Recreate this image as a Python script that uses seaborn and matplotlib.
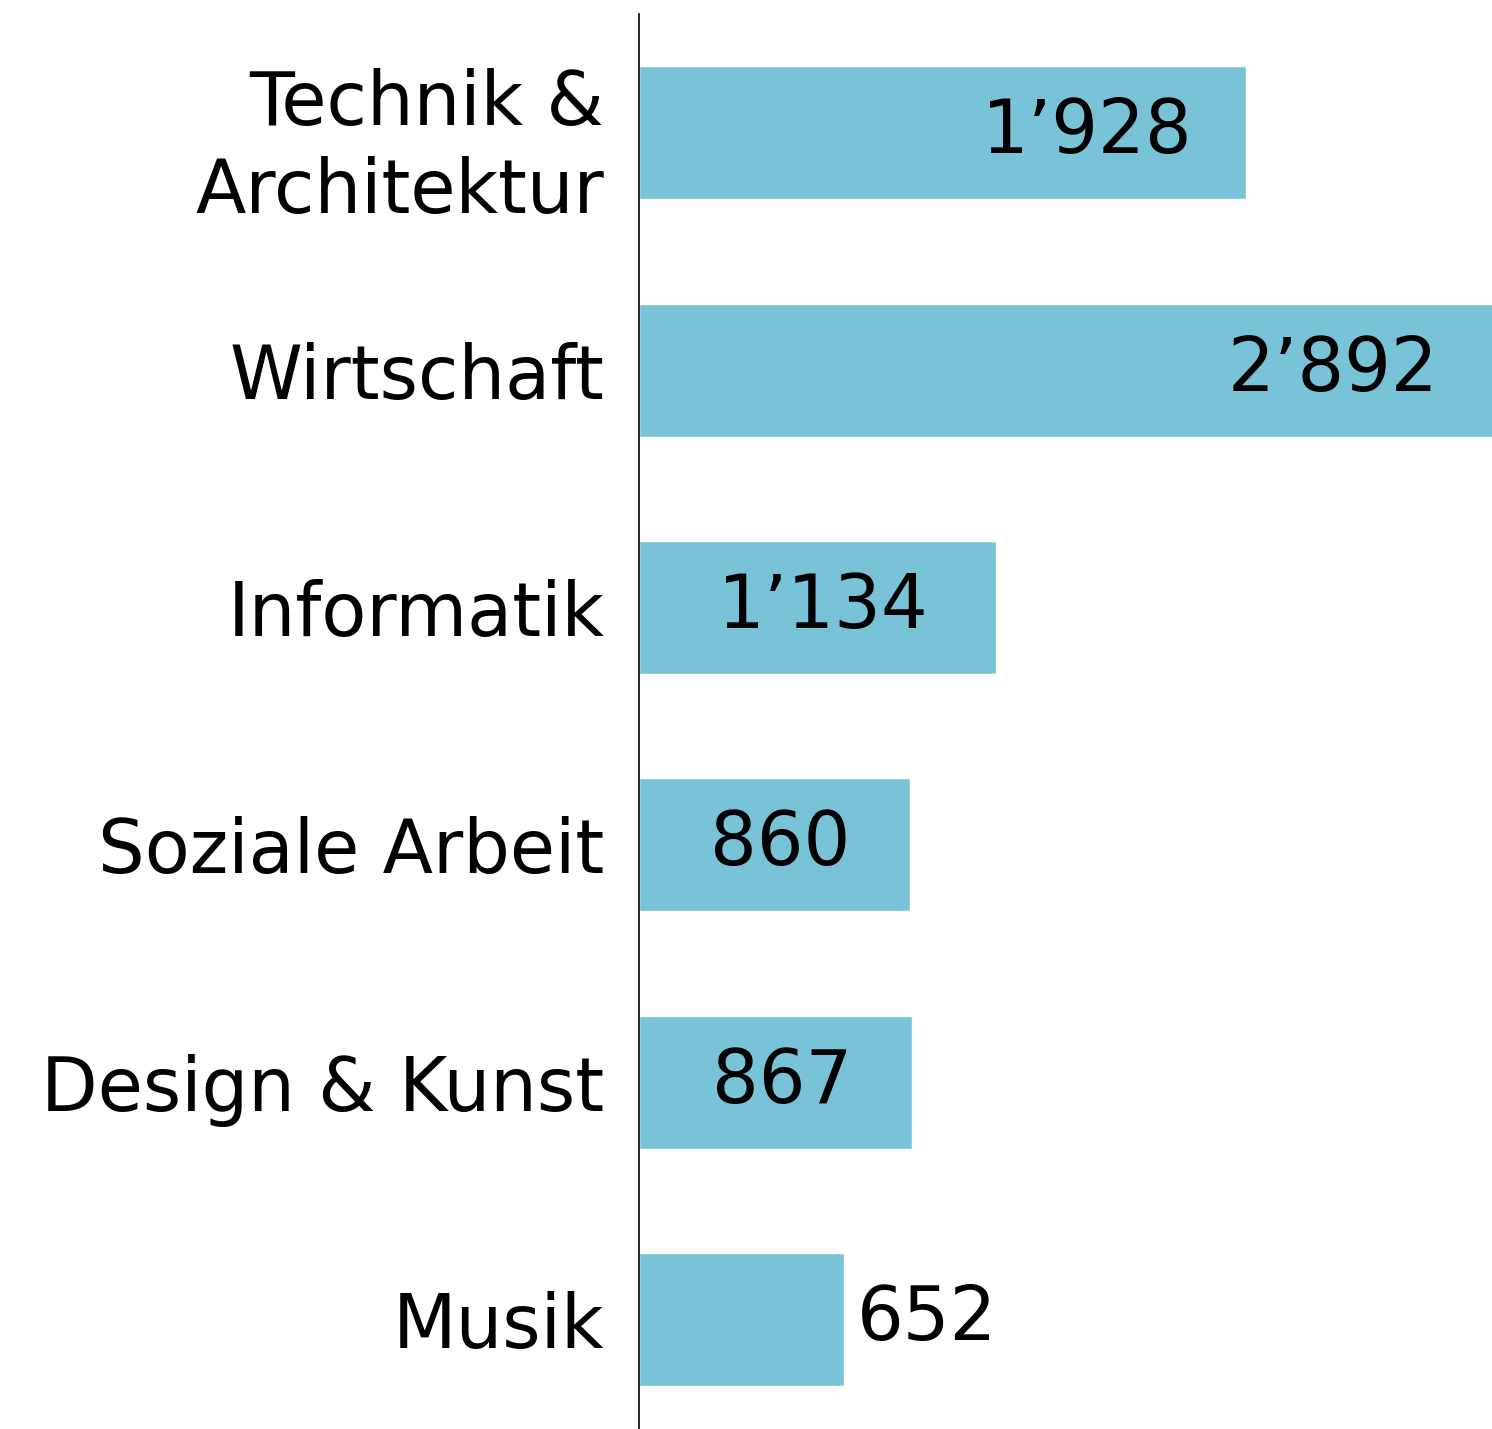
import seaborn as sns
import matplotlib.pyplot as plt
import pandas as pd

# Daten
fields = ['Technik &\nArchitektur', 'Wirtschaft', 'Informatik',
          'Soziale Arbeit', 'Design & Kunst', 'Musik']
students = [1928, 2892, 1134, 860, 867, 652]
bar_color = '#78C3D7'

df = pd.DataFrame({'field': fields, 'n': students})

sns.set_style('white')
plt.rcParams['font.family'] = ['DejaVu Sans']
plt.rcParams['text.color'] = 'black'
plt.rcParams['ytick.color'] = 'black'

fig = plt.figure(figsize=(14.92, 14.29), dpi=100)
ax = fig.add_axes([639 / 1492, 0.0, 1 - 639 / 1492, 1 - 14 / 1429])

sns.barplot(data=df, y='field', x='n', orient='h', color=bar_color,
            width=0.56, saturation=1, ax=ax)

xmax = 2710
ax.set_xlim(0, xmax)
ax.set_ylim(5.46, -0.5)

fs = 53
# Beschriftung der Balken
for i, v in enumerate(students):
    label = f'{v:,}'.replace(',', '\u2019')
    end = min(v, xmax)
    if v < 700:
        ax.text(end + 40, i, label, ha='left', va='center', fontsize=fs)
    elif end > 1500:
        ax.text(end - 170, i, label, ha='right', va='center', fontsize=fs)
    else:
        ax.text(end / 2 + 20, i, label, ha='center', va='center', fontsize=fs)

ax.set_xlabel('')
ax.set_ylabel('')
ax.set_xticks([])
ax.tick_params(axis='y', length=0, pad=25, labelsize=fs, labelcolor='black')
for lbl in ax.get_yticklabels():
    lbl.set_horizontalalignment('right')
    lbl.set_multialignment('right')
    lbl.set_linespacing(1.27)

for s in ['top', 'right', 'bottom']:
    ax.spines[s].set_visible(False)
ax.spines['left'].set_color('black')
ax.spines['left'].set_linewidth(1.2)

fig.savefig('out.png', dpi=100)
